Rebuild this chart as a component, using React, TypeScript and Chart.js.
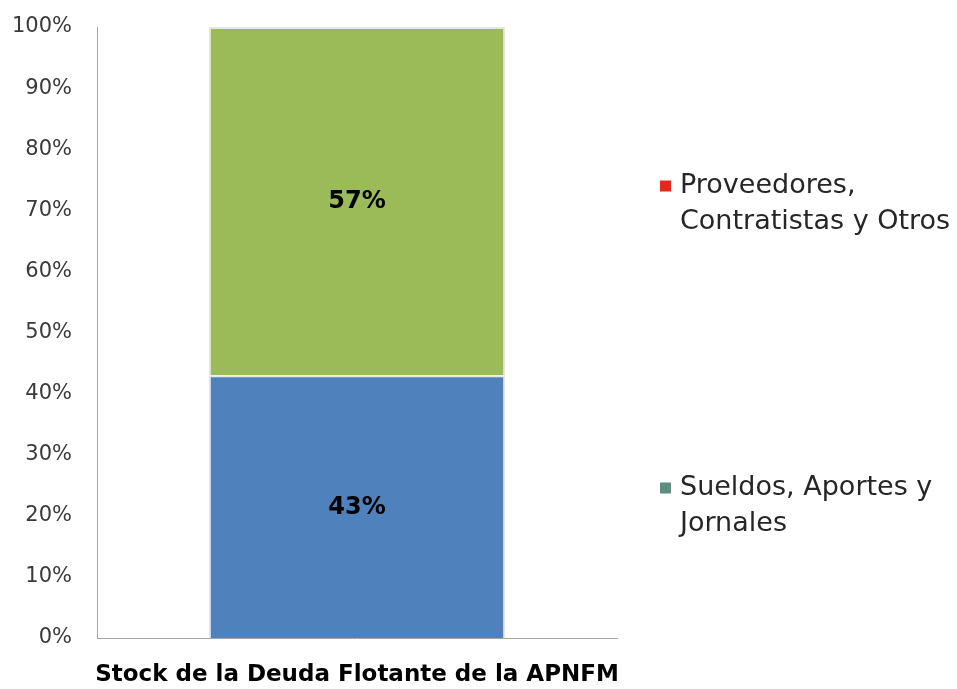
import React, { useEffect, useRef } from "react";
import { Chart, registerables } from "chart.js";

Chart.register(...registerables);

const categories = ["Stock de la Deuda Flotante de la APNFM"];
const sueldosValues = [43];
const proveedoresValues = [57];
const seriesNames = ["Sueldos, Aportes y Jornales", "Proveedores, Contratistas y Otros"];
const legendLines = [
  ["Proveedores,", "Contratistas y Otros"],
  ["Sueldos, Aportes y", "Jornales"],
];
const legendColors = ["#E2281F", "#5B8E81"];
const legendY = [186, 488];
const yTicks = [0, 10, 20, 30, 40, 50, 60, 70, 80, 90, 100];

const FONT = "'DejaVu Sans', sans-serif";

const overlayPlugin = {
  id: "overlay",
  afterDatasetsDraw(chart: any) {
    const ctx = chart.ctx;
    ctx.save();
    chart.data.datasets.forEach((ds: any, di: number) => {
      const meta = chart.getDatasetMeta(di);
      meta.data.forEach((el: any, i: number) => {
        const v = ds.data[i];
        const yc = (el.y + el.base) / 2;
        ctx.font = `bold 24px ${FONT}`;
        ctx.fillStyle = "#000000";
        ctx.textAlign = "center";
        ctx.textBaseline = "middle";
        ctx.fillText(`${v}%`, el.x, yc + 1);
      });
    });
    const area = chart.chartArea;
    const lx = area.right + 43;
    ctx.font = `27px ${FONT}`;
    ctx.textAlign = "left";
    ctx.textBaseline = "middle";
    legendLines.forEach((lines, k) => {
      const y0 = legendY[k];
      ctx.fillStyle = legendColors[k];
      ctx.fillRect(lx, y0 - 5.5, 11, 11);
      ctx.fillStyle = "#262626";
      lines.forEach((ln, j) => {
        ctx.fillText(ln, lx + 20, y0 + j * 36);
      });
    });
    ctx.restore();
  },
};

export default function App() {
  const ref = useRef<HTMLCanvasElement>(null);
  useEffect(() => {
    if (!ref.current) return;
    const chart = new Chart(ref.current, {
      type: "bar",
      data: {
        labels: categories,
        datasets: [
          {
            label: seriesNames[0],
            data: sueldosValues,
            backgroundColor: "#4F81BD",
            borderColor: "#E6E6E6",
            borderWidth: 2,
            categoryPercentage: 1,
            barPercentage: 0.57,
          },
          {
            label: seriesNames[1],
            data: proveedoresValues,
            backgroundColor: "#9BBB59",
            borderColor: "#E6E6E6",
            borderWidth: 2,
            categoryPercentage: 1,
            barPercentage: 0.57,
          },
        ],
      },
      options: {
        animation: false,
        responsive: false,
        maintainAspectRatio: false,
        layout: { padding: { left: 0, right: 340, top: 27, bottom: 0 } },
        plugins: {
          legend: { display: false },
          tooltip: { enabled: false },
        },
        scales: {
          x: {
            stacked: true,
            grid: { display: false, drawTicks: false },
            border: { display: true, color: "#A6A6A6", width: 1 },
            ticks: {
              padding: 23,
              color: "#000000",
              font: { family: FONT, size: 23, weight: "bold" },
            },
            afterFit: (s: any) => {
              s.height = 51;
            },
          },
          y: {
            stacked: true,
            min: 0,
            max: 100,
            afterBuildTicks: (s: any) => {
              s.ticks = yTicks.map((v) => ({ value: v }));
            },
            grid: { display: false, drawTicks: false },
            border: { display: true, color: "#A6A6A6", width: 1 },
            ticks: {
              padding: 25,
              color: "#3A3A3A",
              font: { family: FONT, size: 21 },
              callback: (v: any) => `${v}%`,
            },
            afterFit: (s: any) => {
              s.width = 97;
              s.paddingTop = 0;
              s.paddingBottom = 0;
            },
          },
        },
      },
      plugins: [overlayPlugin],
    });
    return () => chart.destroy();
  }, []);
  return (
    <div style={{ position: "fixed", left: 0, top: 0, width: 957, height: 689, background: "#fff" }}>
      <canvas ref={ref} width={957} height={689} />
    </div>
  );
}
